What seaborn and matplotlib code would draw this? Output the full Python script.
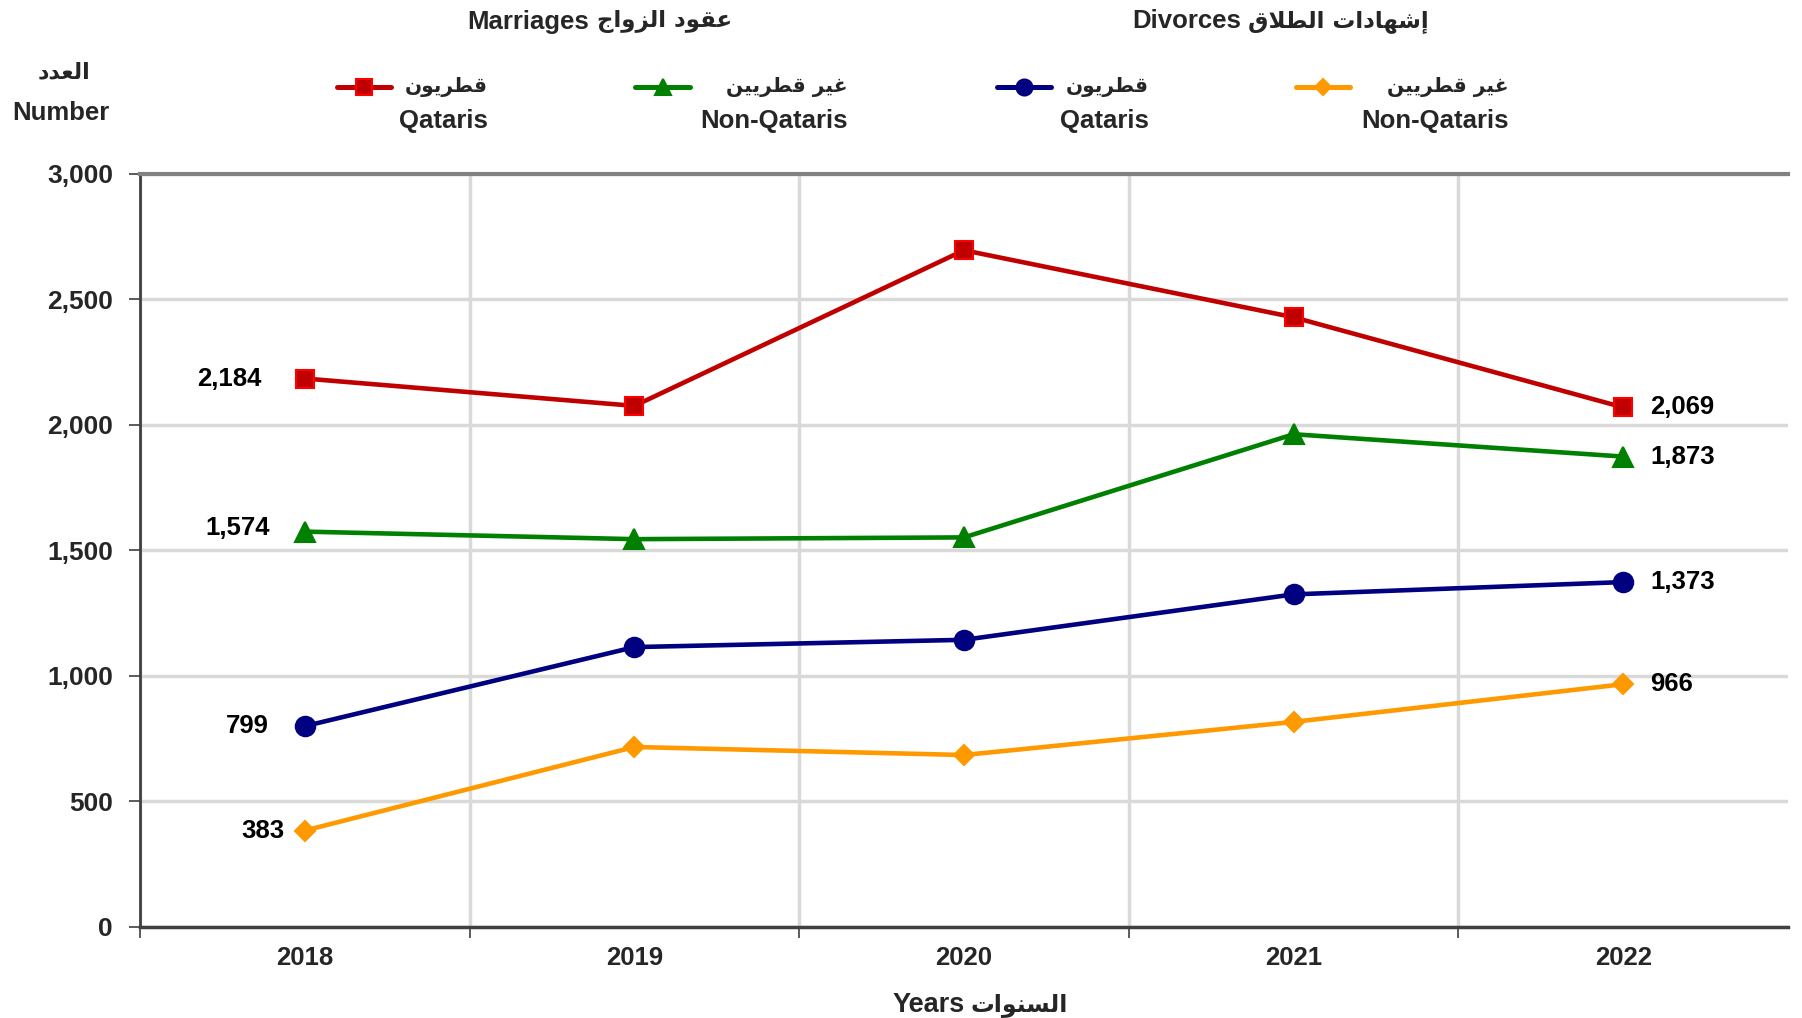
import numpy as np
import pandas as pd
import matplotlib
matplotlib.use("Agg")
import matplotlib.pyplot as plt
import seaborn as sns
from matplotlib.lines import Line2D
from matplotlib.ticker import FuncFormatter

# ---------------- data ----------------
years = ["2018", "2019", "2020", "2021", "2022"]
marriages_qatari = [2184, 2075, 2695, 2428, 2069]
marriages_nonqatari = [1574, 1544, 1551, 1962, 1873]
divorces_qatari = [799, 1114, 1143, 1324, 1373]
divorces_nonqatari = [383, 716, 684, 816, 966]

title_marriages_ar = "عقود الزواج"
title_marriages_en = "Marriages"
title_divorces_ar = "إشهادات الطلاق"
title_divorces_en = "Divorces"
label_qatari_ar = "قطريون"
label_qatari_en = "Qataris"
label_nonqatari_ar = "غير قطريين"
label_nonqatari_en = "Non-Qataris"
ylabel_ar = "العدد"
ylabel_en = "Number"
xlabel_ar = "السنوات"
xlabel_en = "Years"

# ---------------- minimal Arabic shaping (presentation forms) ----------------
FORMS = {  # isolated, final, initial, medial
    'ا': (0xFE8D, 0xFE8E, None, None),
    'إ': (0xFE87, 0xFE88, None, None),
    'ت': (0xFE95, 0xFE96, 0xFE97, 0xFE98),
    'ج': (0xFE9D, 0xFE9E, 0xFE9F, 0xFEA0),
    'د': (0xFEA9, 0xFEAA, None, None),
    'ر': (0xFEAD, 0xFEAE, None, None),
    'ز': (0xFEAF, 0xFEB0, None, None),
    'س': (0xFEB1, 0xFEB2, 0xFEB3, 0xFEB4),
    'ش': (0xFEB5, 0xFEB6, 0xFEB7, 0xFEB8),
    'ط': (0xFEC1, 0xFEC2, 0xFEC3, 0xFEC4),
    'ع': (0xFEC9, 0xFECA, 0xFECB, 0xFECC),
    'غ': (0xFECD, 0xFECE, 0xFECF, 0xFED0),
    'ق': (0xFED5, 0xFED6, 0xFED7, 0xFED8),
    'ل': (0xFEDD, 0xFEDE, 0xFEDF, 0xFEE0),
    'ن': (0xFEE5, 0xFEE6, 0xFEE7, 0xFEE8),
    'ه': (0xFEE9, 0xFEEA, 0xFEEB, 0xFEEC),
    'و': (0xFEED, 0xFEEE, None, None),
    'ي': (0xFEF1, 0xFEF2, 0xFEF3, 0xFEF4),
    'LA': (0xFEFB, 0xFEFC, None, None),
    'LAH': (0xFEF9, 0xFEFA, None, None),
}


def ar(s):
    toks, i = [], 0
    while i < len(s):
        c = s[i]
        if c == 'ل' and i + 1 < len(s) and s[i + 1] in 'اإ':
            toks.append('LA' if s[i + 1] == 'ا' else 'LAH')
            i += 2
        else:
            toks.append(c)
            i += 1
    res = []
    for j, t in enumerate(toks):
        if t not in FORMS:
            res.append(t)
            continue
        f = FORMS[t]
        prev = toks[j - 1] if j > 0 else None
        nxt = toks[j + 1] if j + 1 < len(toks) else None
        jp = prev in FORMS and FORMS[prev][2] is not None
        jn = nxt in FORMS and f[2] is not None
        if jp and jn:
            cp = f[3]
        elif jp:
            cp = f[1]
        elif jn:
            cp = f[2]
        else:
            cp = f[0]
        res.append(chr(cp))
    return ''.join(reversed(res))


# ---------------- style ----------------
sns.set_style("white")
FAM = ["Liberation Sans", "DejaVu Sans"]
AR_FAM = ["DejaVu Sans"]
plt.rcParams["font.family"] = FAM
plt.rcParams["font.weight"] = "bold"

W, H = 1802, 1018
fig = plt.figure(figsize=(W / 100, H / 100), dpi=100)
L, R, B, T = 140, 1788, 926.7, 173.7
ax = fig.add_axes([L / W, 1 - B / H, (R - L) / W, (B - T) / H])

x = np.arange(len(years))
series = [
    (marriages_qatari, "#C00000", "s", 13.5, "#FF0000", -43, 0),
    (marriages_nonqatari, "#008000", "^", 14, "#008000", -35, 4),
    (divorces_qatari, "#000080", "o", 14, "#000080", -36, 0),
    (divorces_nonqatari, "#FF9900", "D", 10, "#FF9900", -20, 0),
]

for vals, col, mk, ms, mec, offl, dy in series:
    df = pd.DataFrame({"x": x, "value": vals})
    sns.lineplot(data=df, x="x", y="value", ax=ax, color=col, linewidth=3.3,
                 marker=mk, markersize=ms, markeredgecolor=mec,
                 markerfacecolor=col, markeredgewidth=1.5, zorder=5)
    ax.annotate(f"{vals[0]:,}", xy=(x[0], vals[0]), xytext=(offl, dy),
                textcoords="offset pixels", ha="right", va="center",
                fontsize=18.5, fontweight="bold", color="black")
    ax.annotate(f"{vals[-1]:,}", xy=(x[-1], vals[-1]), xytext=(27, 0),
                textcoords="offset pixels", ha="left", va="center",
                fontsize=18.5, fontweight="bold", color="black")

ax.set_xlim(-0.5, len(years) - 0.5)
ax.set_ylim(0, 3000)
ax.set_yticks(np.arange(0, 3001, 500))
ax.yaxis.set_major_formatter(FuncFormatter(lambda v, p: f"{int(v):,}"))
ax.set_xticks(x)
ax.set_xticklabels(years)
ax.set_xticks(np.arange(-0.5, len(years) - 1, 1.0), minor=True)
ax.set_xlabel("")
ax.set_ylabel("")

ax.set_axisbelow(True)
ax.yaxis.grid(True, color="#D9D9D9", linewidth=2.5)
ax.xaxis.grid(True, which="minor", color="#D9D9D9", linewidth=2.5)
ax.xaxis.grid(False, which="major")

ax.tick_params(axis="y", direction="out", length=8, width=1.2, color="#404040",
               pad=11.5, labelsize=19, left=True)
ax.tick_params(axis="x", which="major", length=0, pad=14, labelsize=18.5)
ax.tick_params(axis="x", which="minor", direction="out", length=8, width=1.2,
               color="#404040", bottom=True)
for lab in ax.get_xticklabels() + ax.get_yticklabels():
    lab.set_fontweight("bold")

ax.spines["right"].set_visible(False)
ax.spines["left"].set_color("#404040")
ax.spines["left"].set_linewidth(2)
ax.spines["bottom"].set_color("#404040")
ax.spines["bottom"].set_linewidth(2.5)
ax.spines["top"].set_color("#808080")
ax.spines["top"].set_linewidth(3)


def fx(px):
    return px / W


def fy(py):
    return 1 - py / H


def ar_text(xpx, ypx, s, ha, size):
    return fig.text(fx(xpx), fy(ypx), ar(s), ha=ha, va="center", fontsize=size,
                    fontweight="bold", family=AR_FAM)


def en_text(xpx, ypx, s, ha, size=18.5):
    return fig.text(fx(xpx), fy(ypx), s, ha=ha, va="center", fontsize=size,
                    fontweight="bold")


# titles
en_text(589, 21.5, title_marriages_en, "right")
ar_text(597, 21.5, title_marriages_ar, "left", 16.5)
en_text(1241, 21.5, title_divorces_en, "right")
ar_text(1248, 21.5, title_divorces_ar, "left", 16.5)

# y label
ar_text(64, 72, ylabel_ar, "center", 16)
en_text(61, 113, ylabel_en, "center")

# x label
en_text(965, 1005, xlabel_en, "right", size=19.5)
ar_text(971, 1005, xlabel_ar, "left", 17)

# legend (manual)
legend_items = [
    (337, 391, 488, label_qatari_ar, label_qatari_en, "#C00000", "s", 11, "#FF0000"),
    (635, 690, 848, label_nonqatari_ar, label_nonqatari_en, "#008000", "^", 12, "#008000"),
    (997, 1051, 1149, label_qatari_ar, label_qatari_en, "#000080", "o", 11.5, "#000080"),
    (1296, 1350, 1509, label_nonqatari_ar, label_nonqatari_en, "#FF9900", "D", 8.5, "#FF9900"),
]
for x0, x1, xr, tar, ten, col, mk, ms, mec in legend_items:
    fig.add_artist(Line2D([fx(x0), fx(x1)], [fy(87), fy(87)], transform=fig.transFigure,
                          color=col, lw=3.6, solid_capstyle="round"))
    fig.add_artist(Line2D([fx((x0 + x1) / 2)], [fy(87)], transform=fig.transFigure,
                          color=col, marker=mk, markersize=ms, markeredgecolor=mec,
                          markerfacecolor=col, markeredgewidth=1.5, linestyle="none"))
    ar_text(xr, 87, tar, "right", 14.5)
    en_text(xr, 121, ten, "right")

fig.savefig("out.png", dpi=100, facecolor="white")
